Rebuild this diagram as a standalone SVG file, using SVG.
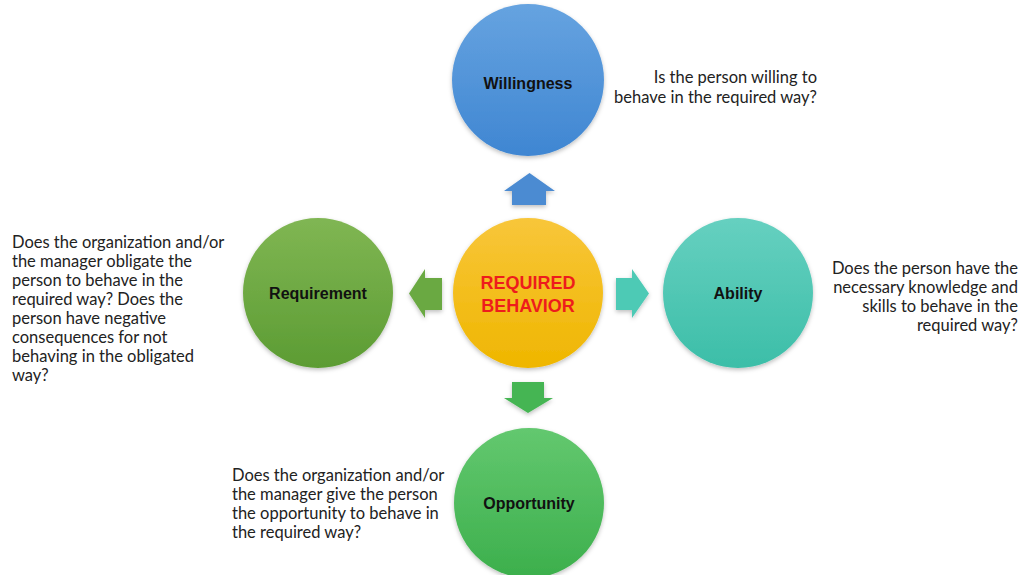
<svg xmlns="http://www.w3.org/2000/svg" width="1024" height="575" viewBox="0 0 1024 575">
  <style>
    .label { font-family: "Liberation Sans", Arial, sans-serif; font-weight: bold; font-size: 16px; fill: #111; text-anchor: middle; }
    .core { font-family: "Liberation Sans", Arial, sans-serif; font-weight: bold; font-size: 18px; fill: #ee1c1c; text-anchor: middle; }
    .note { font-family: Lato, "Noto Sans", sans-serif; font-size: 16.5px; fill: #222; }
    .end { text-anchor: end; }
  </style>
  <defs>
    <linearGradient id="gBlue" x1="0" y1="0" x2="0" y2="1">
      <stop offset="0" stop-color="#66a3e0"/><stop offset="1" stop-color="#3f86d2"/>
    </linearGradient>
    <linearGradient id="gYellow" x1="0" y1="0" x2="0" y2="1">
      <stop offset="0" stop-color="#f8c63a"/><stop offset="1" stop-color="#efb600"/>
    </linearGradient>
    <linearGradient id="gLeaf" x1="0" y1="0" x2="0" y2="1">
      <stop offset="0" stop-color="#80b653"/><stop offset="1" stop-color="#5c9c33"/>
    </linearGradient>
    <linearGradient id="gTeal" x1="0" y1="0" x2="0" y2="1">
      <stop offset="0" stop-color="#66d0c0"/><stop offset="1" stop-color="#3cbea8"/>
    </linearGradient>
    <linearGradient id="gGreen" x1="0" y1="0" x2="0" y2="1">
      <stop offset="0" stop-color="#63c86f"/><stop offset="1" stop-color="#3caf4c"/>
    </linearGradient>
    <filter id="shade" x="-20%" y="-20%" width="140%" height="140%">
      <feDropShadow dx="0" dy="2" stdDeviation="2" flood-color="#000" flood-opacity="0.25"/>
    </filter>
  </defs>

  <rect width="1024" height="575" fill="#ffffff"/>

  <!-- block arrows pointing outward from the centre -->
  <g id="connectors" filter="url(#shade)">
    <path d="M512,205 L512,191 L504,191 L529.5,173 L555,191 L546,191 L546,205 Z" fill="#4b8bd2"/>
    <path d="M442,278 L425,278 L425,269 L409,293.5 L425,318 L425,310 L442,310 Z" fill="#6aa943"/>
    <path d="M616,278 L632,278 L632,269 L649,293.5 L632,318 L632,310 L616,310 Z" fill="#4dcab5"/>
    <path d="M512,382 L544,382 L544,398 L553,398 L528,413 L504,398 L512,398 Z" fill="#44b552"/>
  </g>

  <g id="willingness">
    <circle cx="528" cy="80" r="76" fill="url(#gBlue)" filter="url(#shade)"/>
    <text class="label" x="528" y="89">Willingness</text>
  </g>

  <g id="required-behavior">
    <circle cx="528" cy="293" r="75" fill="url(#gYellow)" filter="url(#shade)"/>
    <text class="core" x="528" y="289">REQUIRED</text>
    <text class="core" x="528" y="312">BEHAVIOR</text>
  </g>

  <g id="requirement">
    <circle cx="318" cy="293" r="75" fill="url(#gLeaf)" filter="url(#shade)"/>
    <text class="label" x="318" y="299">Requirement</text>
  </g>

  <g id="ability">
    <circle cx="738" cy="293" r="75" fill="url(#gTeal)" filter="url(#shade)"/>
    <text class="label" x="738" y="299">Ability</text>
  </g>

  <g id="opportunity">
    <circle cx="529" cy="503" r="75" fill="url(#gGreen)" filter="url(#shade)"/>
    <text class="label" x="529" y="509">Opportunity</text>
  </g>

  <!-- explanatory notes -->
  <g id="note-willingness" class="note end">
    <text x="817" y="83">Is the person willing to</text>
    <text x="817" y="103">behave in the required way?</text>
  </g>

  <g id="note-ability" class="note end">
    <text x="1018" y="274">Does the person have the</text>
    <text x="1018" y="293">necessary knowledge and</text>
    <text x="1018" y="312">skills to behave in the</text>
    <text x="1018" y="331">required way?</text>
  </g>

  <g id="note-requirement" class="note">
    <text x="12" y="248">Does the organization and/or</text>
    <text x="12" y="267">the manager obligate the</text>
    <text x="12" y="286">person to behave in the</text>
    <text x="12" y="305">required way? Does the</text>
    <text x="12" y="324">person have negative</text>
    <text x="12" y="343">consequences for not</text>
    <text x="12" y="362">behaving in the obligated</text>
    <text x="12" y="381">way?</text>
  </g>

  <g id="note-opportunity" class="note">
    <text x="232" y="481">Does the organization and/or</text>
    <text x="232" y="500">the manager give the person</text>
    <text x="232" y="519">the opportunity to behave in</text>
    <text x="232" y="538">the required way?</text>
  </g>
</svg>
